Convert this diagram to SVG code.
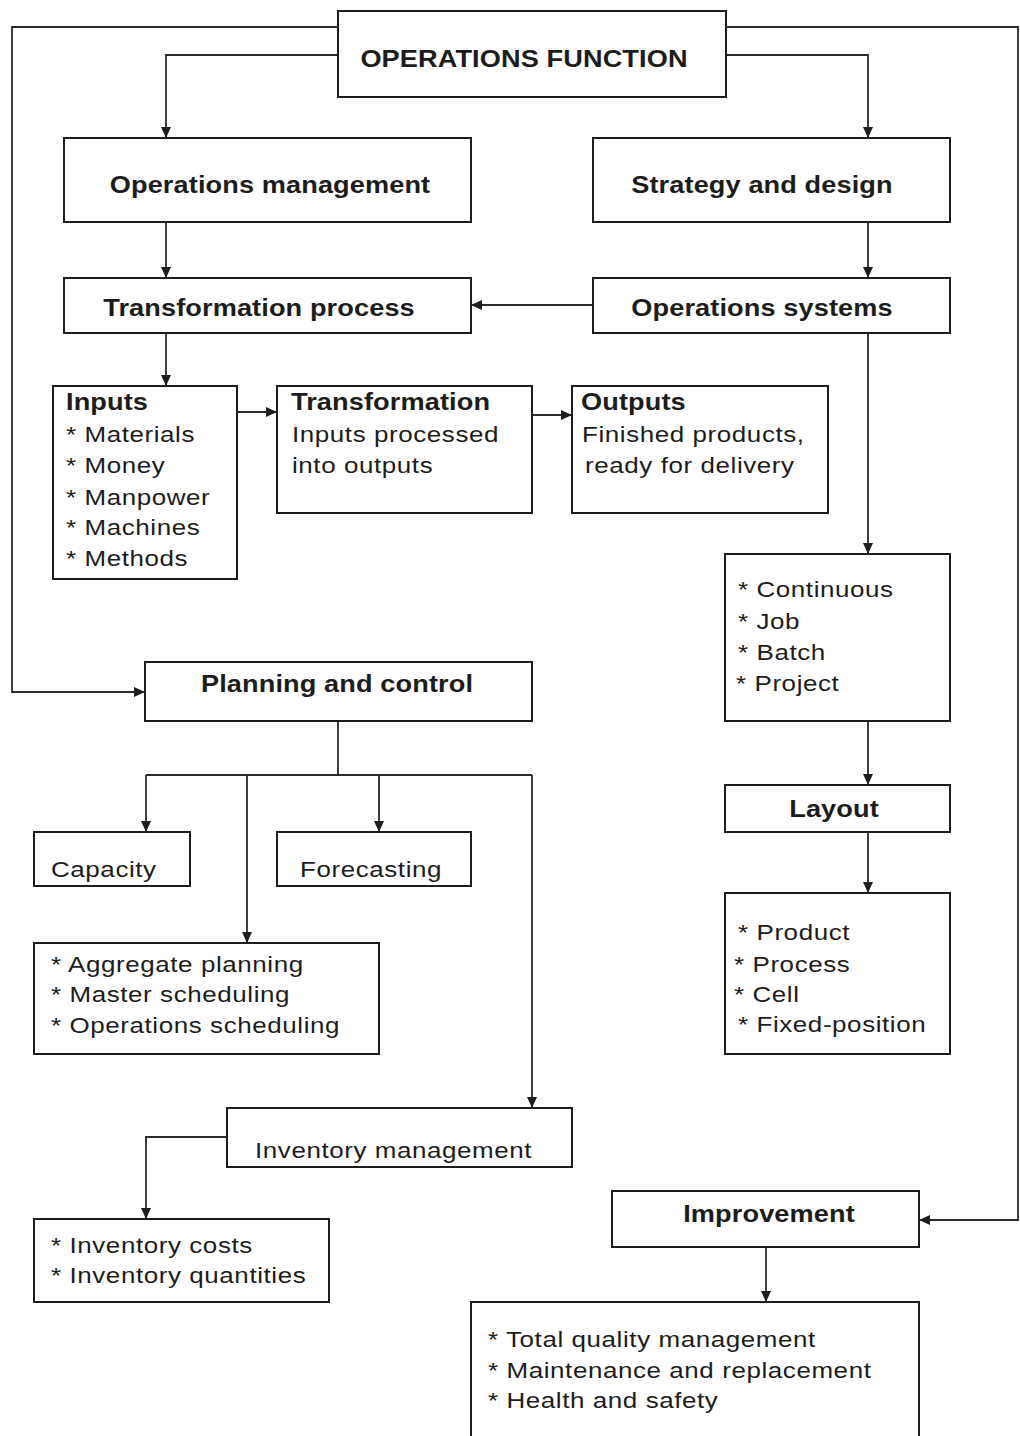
<svg xmlns="http://www.w3.org/2000/svg" width="1020" height="1436" viewBox="0 0 1020 1436">
  <style>
    .box { fill: #ffffff; stroke: #1e1e1e; stroke-width: 2; }
    .wire { fill: none; stroke: #2a2a2a; stroke-width: 1.8; }
    .arrow { marker-end: url(#head); }
    text { font-family: "Liberation Sans", Arial, sans-serif; fill: #1c1c1c; }
    .t { font-size: 22px; letter-spacing: 0.5px; }
    .b { font-size: 23px; font-weight: bold; letter-spacing: 0.1px; }
    .c { text-anchor: middle; }
  </style>
  <defs>
    <marker id="head" markerUnits="userSpaceOnUse" markerWidth="11" markerHeight="10" refX="11" refY="5" orient="auto">
      <path d="M0,0 L11,5 L0,10 z" fill="#1e1e1e"/>
    </marker>
  </defs>
  <rect width="1020" height="1436" fill="#ffffff"/>

  <!-- connectors -->
  <g id="connectors">
    <path class="wire arrow" d="M338,27 H12 V692 H145"/>
    <path class="wire arrow" d="M726,27 H1018 V1220 H919"/>
    <path class="wire arrow" d="M338,55 H166 V138"/>
    <path class="wire arrow" d="M726,55 H868 V138"/>
    <path class="wire arrow" d="M166,222 V278"/>
    <path class="wire arrow" d="M868,222 V278"/>
    <path class="wire arrow" d="M593,305 H471"/>
    <path class="wire arrow" d="M166,333 V386"/>
    <path class="wire arrow" d="M237,412 H277"/>
    <path class="wire arrow" d="M532,415 H572"/>
    <path class="wire arrow" d="M868,333 V554"/>
    <path class="wire arrow" d="M868,721 V785"/>
    <path class="wire arrow" d="M868,832 V893"/>
    <path class="wire" d="M338,721 V775 M146,775 H532"/>
    <path class="wire arrow" d="M146,775 V832"/>
    <path class="wire arrow" d="M247,775 V943"/>
    <path class="wire arrow" d="M379,775 V832"/>
    <path class="wire arrow" d="M532,775 V1108"/>
    <path class="wire arrow" d="M227,1137 H146 V1219"/>
    <path class="wire arrow" d="M766,1247 V1302"/>
  </g>

  <!-- labels are drawn with a slightly widened face: scale(1.18,1) -->
  <g id="operations-function">
    <rect class="box" x="338" y="11" width="388" height="86"/>
    <text class="b c" transform="translate(524,67) scale(1.18,1)">OPERATIONS FUNCTION</text>
  </g>

  <g id="operations-management">
    <rect class="box" x="64" y="138" width="407" height="84"/>
    <text class="b c" transform="translate(270,193) scale(1.18,1)">Operations management</text>
  </g>

  <g id="strategy-design">
    <rect class="box" x="593" y="138" width="357" height="84"/>
    <text class="b c" transform="translate(762,193) scale(1.18,1)">Strategy and design</text>
  </g>

  <g id="transformation-process">
    <rect class="box" x="64" y="278" width="407" height="55"/>
    <text class="b c" transform="translate(259,316) scale(1.18,1)">Transformation process</text>
  </g>

  <g id="operations-systems">
    <rect class="box" x="593" y="278" width="357" height="55"/>
    <text class="b c" transform="translate(762,316) scale(1.18,1)">Operations systems</text>
  </g>

  <g id="inputs">
    <rect class="box" x="53" y="386" width="184" height="193"/>
    <text class="b" transform="translate(66,410) scale(1.18,1)">Inputs</text>
    <text class="t" transform="translate(66,442) scale(1.18,1)">* Materials</text>
    <text class="t" transform="translate(66,473) scale(1.18,1)">* Money</text>
    <text class="t" transform="translate(66,505) scale(1.18,1)">* Manpower</text>
    <text class="t" transform="translate(66,535) scale(1.18,1)">* Machines</text>
    <text class="t" transform="translate(66,566) scale(1.18,1)">* Methods</text>
  </g>

  <g id="transformation">
    <rect class="box" x="277" y="386" width="255" height="127"/>
    <text class="b" transform="translate(291,410) scale(1.18,1)">Transformation</text>
    <text class="t" transform="translate(292,442) scale(1.18,1)">Inputs processed</text>
    <text class="t" transform="translate(292,473) scale(1.18,1)">into outputs</text>
  </g>

  <g id="outputs">
    <rect class="box" x="572" y="386" width="256" height="127"/>
    <text class="b" transform="translate(581,410) scale(1.18,1)">Outputs</text>
    <text class="t" transform="translate(582,442) scale(1.18,1)">Finished products,</text>
    <text class="t" transform="translate(585,473) scale(1.18,1)">ready for delivery</text>
  </g>

  <g id="process-types">
    <rect class="box" x="725" y="554" width="225" height="167"/>
    <text class="t" transform="translate(738,597) scale(1.18,1)">* Continuous</text>
    <text class="t" transform="translate(738,629) scale(1.18,1)">* Job</text>
    <text class="t" transform="translate(738,660) scale(1.18,1)">* Batch</text>
    <text class="t" transform="translate(736,691) scale(1.18,1)">* Project</text>
  </g>

  <g id="layout">
    <rect class="box" x="725" y="785" width="225" height="47"/>
    <text class="b c" transform="translate(834,817) scale(1.18,1)">Layout</text>
  </g>

  <g id="layout-types">
    <rect class="box" x="725" y="893" width="225" height="161"/>
    <text class="t" transform="translate(738,940) scale(1.18,1)">* Product</text>
    <text class="t" transform="translate(734,972) scale(1.18,1)">* Process</text>
    <text class="t" transform="translate(734,1002) scale(1.18,1)">* Cell</text>
    <text class="t" transform="translate(738,1032) scale(1.18,1)">* Fixed-position</text>
  </g>

  <g id="planning-control">
    <rect class="box" x="145" y="662" width="387" height="59"/>
    <text class="b c" transform="translate(337,692) scale(1.18,1)">Planning and control</text>
  </g>

  <g id="capacity">
    <rect class="box" x="34" y="832" width="156" height="54"/>
    <text class="t" transform="translate(51,877) scale(1.18,1)">Capacity</text>
  </g>

  <g id="forecasting">
    <rect class="box" x="277" y="832" width="194" height="54"/>
    <text class="t" transform="translate(300,877) scale(1.18,1)">Forecasting</text>
  </g>

  <g id="scheduling">
    <rect class="box" x="34" y="943" width="345" height="111"/>
    <text class="t" transform="translate(51,972) scale(1.18,1)">* Aggregate planning</text>
    <text class="t" transform="translate(51,1002) scale(1.18,1)">* Master scheduling</text>
    <text class="t" transform="translate(51,1033) scale(1.18,1)">* Operations scheduling</text>
  </g>

  <g id="inventory-management">
    <rect class="box" x="227" y="1108" width="345" height="59"/>
    <text class="t" transform="translate(255,1158) scale(1.18,1)">Inventory management</text>
  </g>

  <g id="inventory-items">
    <rect class="box" x="34" y="1219" width="295" height="83"/>
    <text class="t" transform="translate(51,1253) scale(1.18,1)">* Inventory costs</text>
    <text class="t" transform="translate(51,1283) scale(1.18,1)">* Inventory quantities</text>
  </g>

  <g id="improvement">
    <rect class="box" x="612" y="1191" width="307" height="56"/>
    <text class="b c" transform="translate(769,1222) scale(1.18,1)">Improvement</text>
  </g>

  <g id="improvement-items">
    <rect class="box" x="471" y="1302" width="448" height="160"/>
    <text class="t" transform="translate(488,1347) scale(1.18,1)">* Total quality management</text>
    <text class="t" transform="translate(488,1378) scale(1.18,1)">* Maintenance and replacement</text>
    <text class="t" transform="translate(488,1408) scale(1.18,1)">* Health and safety</text>
  </g>
</svg>
